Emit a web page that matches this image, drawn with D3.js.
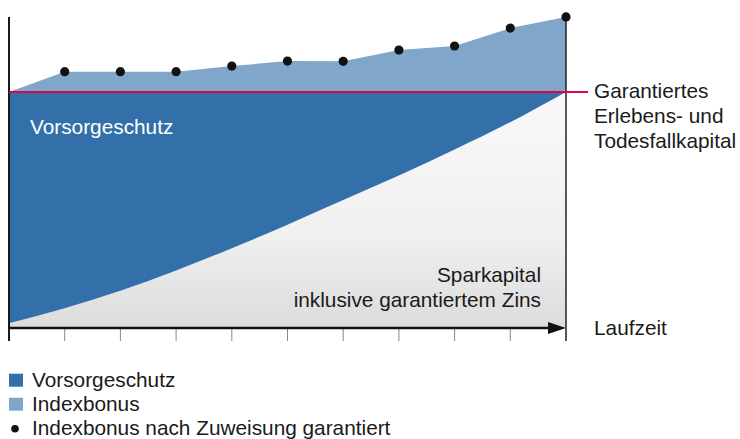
<!DOCTYPE html>
<html>
<head>
<meta charset="utf-8">
<script src="https://cdn.jsdelivr.net/npm/d3@7"></script>
<style>
  html, body { margin: 0; padding: 0; background: #fff; }
  svg { display: block; font-family: "Liberation Sans", Arial, sans-serif; }
</style>
</head>
<body>
<svg id="chart" width="740" height="439"></svg>
<script>
// ---- data ----
const years = [0, 1, 2, 3, 4, 5, 6, 7, 8, 9, 10];
const sparkapital = [2.0, 8.4, 15.8, 24.4, 33.8, 43.8, 54.2, 64.6, 75.6, 87.2, 100];
const indexTotal = [100, 108.6, 108.6, 108.6, 111.0, 113.1, 113.0, 117.8, 119.5, 127.1, 131.8];
const guaranteed = 100;
const dotYears = [1, 2, 3, 4, 5, 6, 7, 8, 9, 10];
const rightLabel = ["Garantiertes", "Erlebens- und", "Todesfallkapital"];
const sparLabel = ["Sparkapital", "inklusive garantiertem Zins"];
const legendItems = ["Vorsorgeschutz", "Indexbonus", "Indexbonus nach Zuweisung garantiert"];

// ---- setup ----
const svg = d3.select("#chart");
const x = d3.scaleLinear().domain([0, 10]).range([9, 566]);
const y = d3.scaleLinear().domain([0, 100]).range([328, 92]);

const C_DARK = "#3370aa";
const C_LIGHT = "#80a6ca";
const C_RED = "#e2004f";
const FS = 20.8;

const defs = svg.append("defs");
const grad = defs.append("linearGradient").attr("id", "sparGrad")
  .attr("x1", 0).attr("y1", 0).attr("x2", 0).attr("y2", 1);
grad.append("stop").attr("offset", "0%").attr("stop-color", "#f9f9f9");
grad.append("stop").attr("offset", "60%").attr("stop-color", "#f0f0f0");
grad.append("stop").attr("offset", "100%").attr("stop-color", "#dcdcdc");

const rows = years.map((t, i) => ({ t, s: sparkapital[i], idx: indexTotal[i] }));

// Indexbonus area (between guaranteed level and index total)
svg.append("path")
  .datum(rows)
  .attr("fill", C_LIGHT)
  .attr("d", d3.area().x(d => x(d.t)).y0(y(guaranteed)).y1(d => y(d.idx)));

// Sparkapital area (below curve)
svg.append("path")
  .datum(rows)
  .attr("fill", "url(#sparGrad)")
  .attr("d", d3.area().curve(d3.curveNatural).x(d => x(d.t)).y0(y(0)).y1(d => y(d.s)));

// Vorsorgeschutz (between curve and guaranteed level)
svg.append("path")
  .datum(rows)
  .attr("fill", C_DARK)
  .attr("d", d3.area().curve(d3.curveNatural).x(d => x(d.t)).y0(y(guaranteed)).y1(d => y(d.s)));

// ticks below axis
svg.append("g").selectAll("line")
  .data(years.slice(1, 10))
  .join("line")
  .attr("x1", d => x(d)).attr("x2", d => x(d))
  .attr("y1", y(0)).attr("y2", y(0) + 13)
  .attr("stroke", "#8a8a8a").attr("stroke-width", 1);

// left axis
svg.append("line")
  .attr("x1", x(0)).attr("x2", x(0))
  .attr("y1", y(d3.max(indexTotal))).attr("y2", y(0) + 13)
  .attr("stroke", "#1a1a1a").attr("stroke-width", 2);

// right vertical line
svg.append("line")
  .attr("x1", x(10)).attr("x2", x(10))
  .attr("y1", y(indexTotal[10])).attr("y2", y(0) + 13)
  .attr("stroke", "#222").attr("stroke-width", 1.5);

// bottom axis with arrow
svg.append("line")
  .attr("x1", x(0)).attr("x2", x(10) - 16)
  .attr("y1", y(0)).attr("y2", y(0))
  .attr("stroke", "#111").attr("stroke-width", 2.5);
svg.append("path")
  .attr("d", `M${x(10) - 18},${y(0) - 6} L${x(10)},${y(0)} L${x(10) - 18},${y(0) + 6} Z`)
  .attr("fill", "#111");

// guaranteed line
svg.append("line")
  .attr("x1", x(0)).attr("x2", 588)
  .attr("y1", y(guaranteed)).attr("y2", y(guaranteed))
  .attr("stroke", C_RED).attr("stroke-width", 2);

// dots
svg.append("g").selectAll("circle")
  .data(dotYears)
  .join("circle")
  .attr("cx", d => x(d)).attr("cy", d => y(indexTotal[d]))
  .attr("r", 4.6).attr("fill", "#111");

// texts
svg.append("text").attr("x", 30).attr("y", 134)
  .attr("fill", "#fff").attr("font-size", FS).text("Vorsorgeschutz");

svg.append("g").selectAll("text")
  .data(rightLabel).join("text")
  .attr("x", 594).attr("y", (d, i) => 97.5 + i * 25)
  .attr("font-size", FS).attr("fill", "#1a1a1a").text(d => d);

svg.append("text").attr("x", 594).attr("y", 335)
  .attr("font-size", FS).attr("fill", "#1a1a1a").text("Laufzeit");

svg.append("g").selectAll("text")
  .data(sparLabel).join("text")
  .attr("x", 541).attr("y", (d, i) => 282 + i * 25)
  .attr("text-anchor", "end")
  .attr("font-size", FS).attr("fill", "#1a1a1a").text(d => d);

// legend
const lg = svg.append("g");
const legendColors = [C_DARK, C_LIGHT];
legendItems.forEach((label, i) => {
  const by = 386.7 + i * 24;
  if (i < 2) {
    lg.append("rect").attr("x", 9).attr("y", by - 13).attr("width", 14).attr("height", 13)
      .attr("fill", legendColors[i]);
  } else {
    lg.append("circle").attr("cx", 15).attr("cy", by - 6).attr("r", 3.8).attr("fill", "#111");
  }
  lg.append("text").attr("x", 32).attr("y", by)
    .attr("font-size", FS).attr("fill", "#1a1a1a").text(label);
});
</script>
</body>
</html>
